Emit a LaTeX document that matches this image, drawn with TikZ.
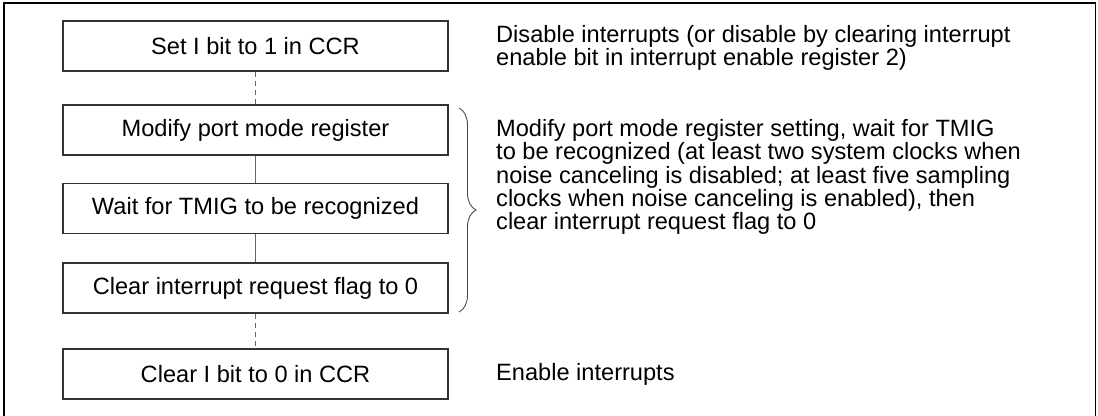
\documentclass[tikz,border=0pt]{standalone}
\usepackage{fontspec}
\setmainfont{Liberation Sans}
\usetikzlibrary{decorations.pathreplacing}

\begin{document}
\begin{tikzpicture}[
        x=1bp, y=-1bp,
        font=\fontsize{23.6bp}{23.3bp}\selectfont,
        stepbox/.style={draw=black!80, line width=1.3bp, minimum width=385bp, minimum height=50bp, inner sep=0pt},
        solidlink/.style={draw=black!60, line width=1bp},
        dashlink/.style={draw=black!60, line width=1bp, dash pattern=on 5bp off 4bp},
        note/.style={anchor=west, align=left, inner sep=0pt}
    ]
    \useasboundingbox (0,0) rectangle (1098,415);
    % Rahmen
    \draw[line width=1.8bp] (4,416) -- (4,3) -- (1095.5,3) -- (1095.5,416);
    % Ablauf
    \node[stepbox] (setI) at (255.5,46) {Set I bit to 1 in CCR};
    \node[stepbox] (modify) at (255.5,130) {Modify port mode register};
    \node[stepbox] (wait) at (255.5,208.5) {Wait for TMIG to be recognized};
    \node[stepbox] (clearflag) at (255.5,288) {Clear interrupt request flag to 0};
    \node[stepbox] (clearI) at (255.5,374) {Clear I bit to 0 in CCR};
    \draw[dashlink] (setI) -- (modify);
    \draw[solidlink] (modify) -- (wait);
    \draw[solidlink] (wait) -- (clearflag);
    \draw[dashlink] (clearflag) -- (clearI);
    % Klammer
    \coordinate (bracetop) at (459,108);
    \coordinate (bracebottom) at (459,312);
    \draw[black!70, line width=0.9bp, decorate, decoration={brace, amplitude=17bp}] (bracetop) -- (bracebottom);
    % Erklaerungen
    \node[note] (disablenote) at (496,48) {Disable interrupts (or disable by clearing interrupt\\enable bit in interrupt enable register 2)};
    \node[note] (modifynote) at (496,177) {Modify port mode register setting, wait for TMIG\\to be recognized (at least two system clocks when\\noise canceling is disabled; at least five sampling\\clocks when noise canceling is enabled), then\\clear interrupt request flag to 0};
    \node[note] (enablenote) at (496,374) {Enable interrupts};
\end{tikzpicture}
\end{document}
